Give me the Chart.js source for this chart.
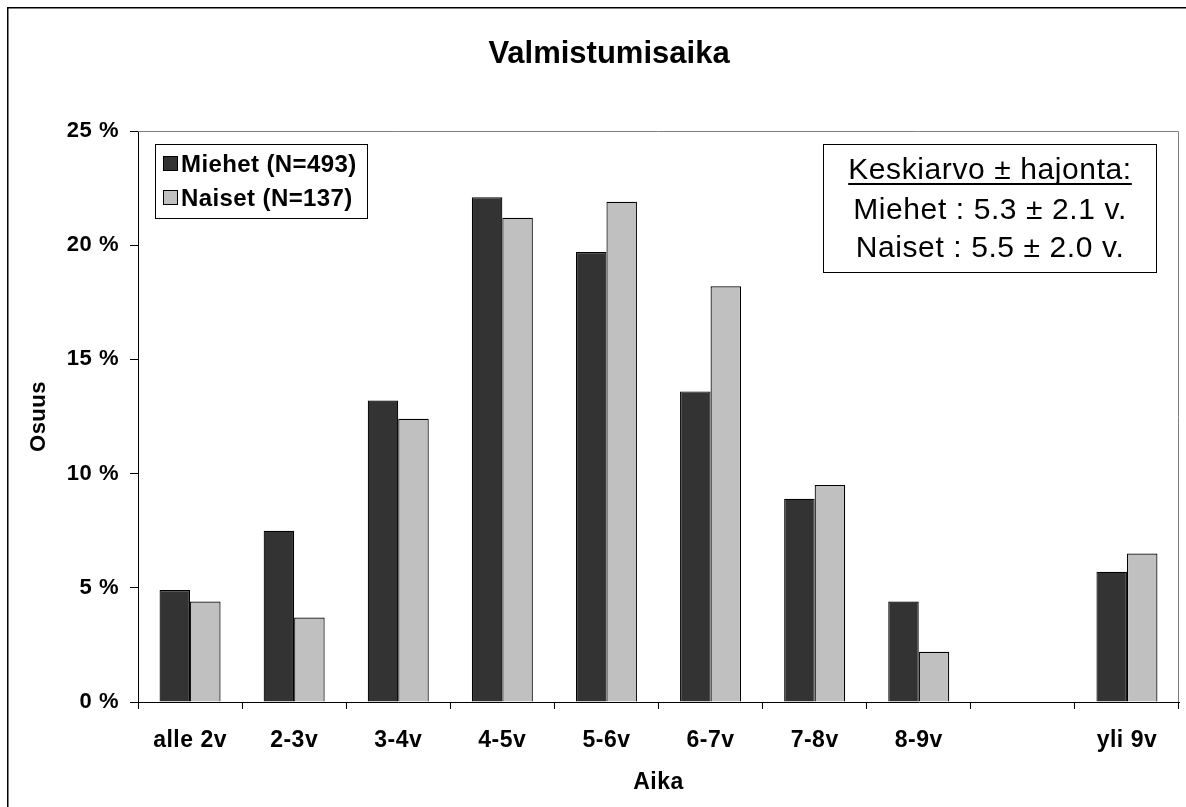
<!DOCTYPE html>
<html>
<head>
<meta charset="utf-8">
<script src="https://cdn.jsdelivr.net/npm/chart.js@4.4.1/dist/chart.umd.min.js"></script>
<style>
  html, body { margin: 0; padding: 0; background: #fff; }
  #wrap { width: 1186px; height: 807px; }
</style>
</head>
<body>
<div id="wrap"><canvas id="chart"></canvas></div>
<script>
// Values
const categories = ['alle 2v', '2-3v', '3-4v', '4-5v', '5-6v', '6-7v', '7-8v', '8-9v', '', 'yli 9v'];
const miehet = [4.9, 7.5, 13.2, 22.1, 19.7, 13.6, 8.9, 4.4, null, 5.7];
const naiset = [4.4, 3.7, 12.4, 21.2, 21.9, 18.2, 9.5, 2.2, null, 6.5];
const seriesNames = ['Miehet (N=493)', 'Naiset (N=137)'];
const seriesColors = ['#333333', '#C0C0C0'];
const chartTitle = 'Valmistumisaika';
const statsLines = ['Keskiarvo ± hajonta:', 'Miehet : 5.3 ± 2.1 v.', 'Naiset : 5.5 ± 2.0 v.'];

const FONT = '"Liberation Sans", Arial, sans-serif';

// White background, outer frame, plot area border, title, legend and stats box
const decorations = {
    id: 'decorations',
    beforeDraw(chart) {
        const ctx = chart.ctx;
        ctx.save();
        ctx.fillStyle = '#fff';
        ctx.fillRect(0, 0, chart.width, chart.height);
        ctx.strokeStyle = '#000';
        ctx.lineWidth = 1.5;
        ctx.strokeRect(7.75, 7.75, chart.width + 20, chart.height + 20);
        ctx.restore();
        ctx.letterSpacing = '0.5px';
    },
    beforeDatasetsDraw(chart) {
        const ctx = chart.ctx;
        const a = chart.chartArea;
        ctx.save();
        ctx.strokeStyle = '#808080';
        ctx.lineWidth = 1;
        ctx.beginPath();
        ctx.moveTo(a.left, Math.round(a.top) + 0.5);
        ctx.lineTo(Math.round(a.right) - 0.5, Math.round(a.top) + 0.5);
        ctx.lineTo(Math.round(a.right) - 0.5, a.bottom);
        ctx.stroke();
        ctx.restore();
    },
    afterDraw(chart) {
        const ctx = chart.ctx;
        ctx.save();
        ctx.fillStyle = '#000';
        ctx.textBaseline = 'alphabetic';

        // title
        ctx.letterSpacing = '0px';
        ctx.font = 'bold 31px ' + FONT;
        ctx.textAlign = 'center';
        ctx.fillText(chartTitle, 609, 63);

        // legend
        ctx.strokeStyle = '#000';
        ctx.lineWidth = 1;
        ctx.fillStyle = '#fff';
        ctx.fillRect(155.5, 144.5, 212, 74);
        ctx.strokeRect(155.5, 144.5, 212, 74);
        ctx.font = 'bold 24px ' + FONT;
        ctx.letterSpacing = '0.4px';
        ctx.textAlign = 'left';
        chart.data.datasets.forEach((ds, i) => {
            const base = 172 + i * 34;
            ctx.fillStyle = ds.backgroundColor;
            ctx.fillRect(163.5, base - 15.5, 14, 14);
            ctx.strokeRect(163.5, base - 15.5, 14, 14);
            ctx.fillStyle = '#000';
            ctx.fillText(ds.label, 181, base);
        });

        // stats box
        ctx.fillStyle = '#fff';
        ctx.fillRect(823.5, 144.5, 333, 128);
        ctx.strokeRect(823.5, 144.5, 333, 128);
        ctx.fillStyle = '#000';
        ctx.font = '30px ' + FONT;
        ctx.letterSpacing = '0.6px';
        ctx.textAlign = 'center';
        const bases = [179, 219, 257];
        statsLines.forEach((line, i) => {
            ctx.fillText(line, 990, bases[i]);
            if (i === 0) {
                const w = ctx.measureText(line).width;
                ctx.lineWidth = 1.8;
                ctx.beginPath();
                ctx.moveTo(990 - w / 2, 184);
                ctx.lineTo(990 + w / 2, 184);
                ctx.stroke();
            }
        });
        ctx.restore();
        ctx.letterSpacing = '0px';
    }
};

new Chart(document.getElementById('chart').getContext('2d'), {
    type: 'bar',
    data: {
        labels: categories,
        datasets: [
            { label: seriesNames[0], data: miehet, backgroundColor: seriesColors[0] },
            { label: seriesNames[1], data: naiset, backgroundColor: seriesColors[1] }
        ]
    },
    options: {
        responsive: true,
        maintainAspectRatio: false,
        animation: false,
        layout: { padding: { top: 131, right: 7, left: 0, bottom: 0 } },
        datasets: {
            bar: {
                categoryPercentage: 0.586,
                barPercentage: 1.0,
                borderColor: '#000',
                borderWidth: 1.2
            }
        },
        plugins: {
            legend: { display: false },
            tooltip: { enabled: false },
            title: { display: false }
        },
        scales: {
            x: {
                grid: { display: true, drawOnChartArea: false, drawTicks: true, tickLength: 7, color: '#000', offset: true },
                border: { display: true, color: '#000', width: 1 },
                ticks: {
                    color: '#000',
                    font: { family: FONT, size: 23, weight: 'bold' },
                    padding: 18,
                    maxRotation: 0,
                    autoSkip: false
                },
                title: {
                    display: true,
                    text: 'Aika',
                    color: '#000',
                    font: { family: FONT, size: 23, weight: 'bold' },
                    padding: { top: 0, bottom: 11 }
                },
                afterFit(scale) { scale.height = 105; }
            },
            y: {
                min: 0,
                max: 25,
                grid: { display: true, drawOnChartArea: false, drawTicks: true, tickLength: 8, color: '#000' },
                border: { display: true, color: '#000', width: 1 },
                ticks: {
                    stepSize: 5,
                    color: '#000',
                    font: { family: FONT, size: 22, weight: 'bold' },
                    padding: 11,
                    callback: v => v + ' %'
                },
                title: {
                    display: true,
                    text: 'Osuus',
                    color: '#000',
                    font: { family: FONT, size: 22, weight: 'bold' },
                    padding: { top: 26, bottom: 0 }
                },
                afterFit(scale) { scale.width = 138; }
            }
        }
    },
    plugins: [decorations]
});
</script>
</body>
</html>
